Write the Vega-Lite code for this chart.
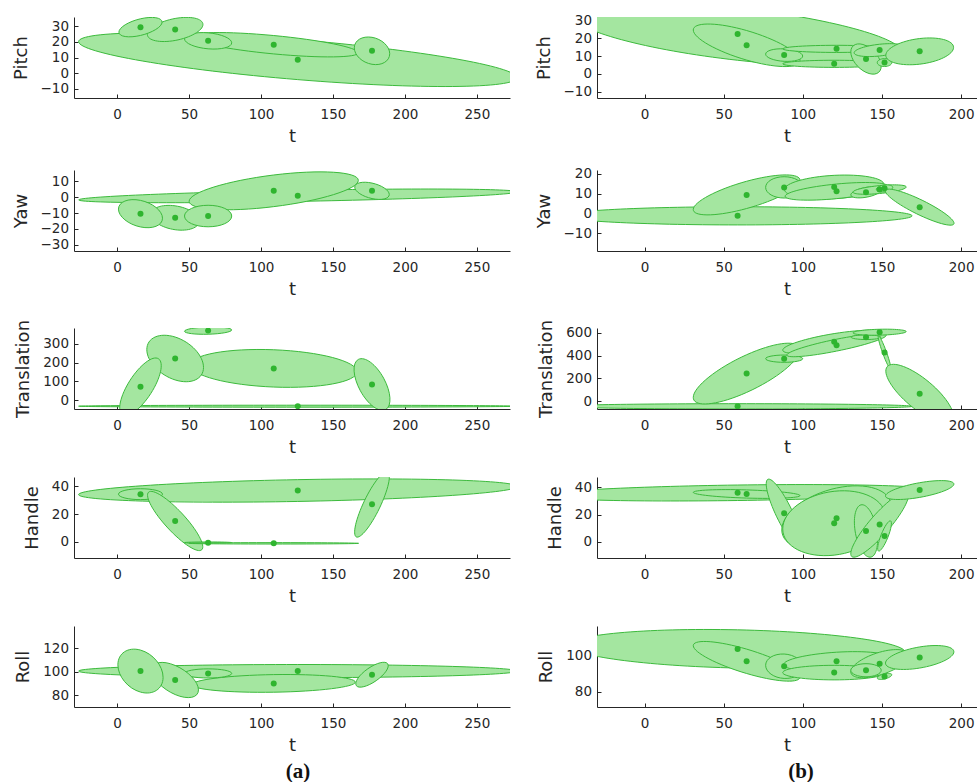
{
  "$schema": "https://vega.github.io/schema/vega-lite/v6.json",
  "padding": {"left": 12, "top": 13, "right": 0, "bottom": 0},
  "columns": 2,
  "spacing": {"row": 20, "column": 25},
  "config": {
    "font": "DejaVu Sans",
    "view": {"stroke": null},
    "axis": {
      "grid": false, "domainColor": "#262626", "tickColor": "#262626", "tickSize": -4,
      "labelFont": "DejaVu Sans", "labelFontSize": 13.5, "labelColor": "#262626", "labelFlush": false, "labelOverlap": false,
      "titleFont": "DejaVu Sans", "titleFontSize": 18, "titleFontWeight": "normal", "titleColor": "#262626"
    },
    "axisX": {"labelPadding": 13, "titlePadding": 7},
    "axisY": {"labelPadding": 9.5, "titlePadding": 10}
  },
  "datasets": {
    "ell": [
      {"p":"a1","e":"A1","k":0,"t":277.8,"v":-2.95},{"p":"a1","e":"A1","k":1,"t":125.5,"v":21.4},{"p":"a1","e":"A1","k":2,"t":-26.8,"v":20.15},{"p":"a1","e":"A1","k":3,"t":125.5,"v":-4.2},
      {"p":"a1","e":"A5","k":0,"t":167.6,"v":13.07},{"p":"a1","e":"A5","k":1,"t":108.8,"v":24.1},{"p":"a1","e":"A5","k":2,"t":50.0,"v":23.33},{"p":"a1","e":"A5","k":3,"t":108.8,"v":12.3},
      {"p":"a1","e":"A6","k":0,"t":189.4,"v":12.4},{"p":"a1","e":"A6","k":1,"t":177.1,"v":22.96},{"p":"a1","e":"A6","k":2,"t":164.8,"v":16.2},{"p":"a1","e":"A6","k":3,"t":177.1,"v":5.64},
      {"p":"a1","e":"A4","k":0,"t":79.6,"v":19.42},{"p":"a1","e":"A4","k":1,"t":63.2,"v":25.83},{"p":"a1","e":"A4","k":2,"t":46.8,"v":21.98},{"p":"a1","e":"A4","k":3,"t":63.2,"v":15.57},
      {"p":"a1","e":"A3","k":0,"t":59.6,"v":31.2},{"p":"a1","e":"A3","k":1,"t":40.3,"v":35.06},{"p":"a1","e":"A3","k":2,"t":21.0,"v":24.8},{"p":"a1","e":"A3","k":3,"t":40.3,"v":20.94},
      {"p":"a1","e":"A2","k":0,"t":31.2,"v":32.7},{"p":"a1","e":"A2","k":1,"t":16.2,"v":34.85},{"p":"a1","e":"A2","k":2,"t":1.2,"v":26.3},{"p":"a1","e":"A2","k":3,"t":16.2,"v":24.15},

      {"p":"a2","e":"B1","k":0,"t":277.8,"v":3.4},{"p":"a2","e":"B1","k":1,"t":125.5,"v":4.35},{"p":"a2","e":"B1","k":2,"t":-26.8,"v":-1.7},{"p":"a2","e":"B1","k":3,"t":125.5,"v":-2.65},
      {"p":"a2","e":"B2","k":0,"t":167.6,"v":10.64},{"p":"a2","e":"B2","k":1,"t":108.8,"v":14.04},{"p":"a2","e":"B2","k":2,"t":50.0,"v":-2.56},{"p":"a2","e":"B2","k":3,"t":108.8,"v":-5.96},
      {"p":"a2","e":"B3","k":0,"t":189.1,"v":1.7},{"p":"a2","e":"B3","k":1,"t":177.1,"v":8.94},{"p":"a2","e":"B3","k":2,"t":165.1,"v":6.38},{"p":"a2","e":"B3","k":3,"t":177.1,"v":-0.86},
      {"p":"a2","e":"B5","k":0,"t":57.0,"v":-15.1},{"p":"a2","e":"B5","k":1,"t":40.3,"v":-5.45},{"p":"a2","e":"B5","k":2,"t":23.6,"v":-10.9},{"p":"a2","e":"B5","k":3,"t":40.3,"v":-20.55},
      {"p":"a2","e":"B4","k":0,"t":31.5,"v":-13.27},{"p":"a2","e":"B4","k":1,"t":16.2,"v":-2.0},{"p":"a2","e":"B4","k":2,"t":0.9,"v":-7.53},{"p":"a2","e":"B4","k":3,"t":16.2,"v":-18.8},
      {"p":"a2","e":"B6","k":0,"t":79.6,"v":-11.9},{"p":"a2","e":"B6","k":1,"t":63.2,"v":-5.1},{"p":"a2","e":"B6","k":2,"t":46.8,"v":-11.9},{"p":"a2","e":"B6","k":3,"t":63.2,"v":-18.7},

      {"p":"a3","e":"C1","k":0,"t":277.8,"v":-33},{"p":"a3","e":"C1","k":1,"t":125.5,"v":-27.7},{"p":"a3","e":"C1","k":2,"t":-26.8,"v":-33},{"p":"a3","e":"C1","k":3,"t":125.5,"v":-38.3},
      {"p":"a3","e":"C5","k":0,"t":166.7,"v":151.4},{"p":"a3","e":"C5","k":1,"t":108.8,"v":268.7},{"p":"a3","e":"C5","k":2,"t":50.9,"v":186.6},{"p":"a3","e":"C5","k":3,"t":108.8,"v":69.3},
      {"p":"a3","e":"C3","k":0,"t":60.0,"v":174.3},{"p":"a3","e":"C3","k":1,"t":40.3,"v":336.7},{"p":"a3","e":"C3","k":2,"t":20.6,"v":269.7},{"p":"a3","e":"C3","k":3,"t":40.3,"v":107.3},
      {"p":"a3","e":"C2","k":0,"t":28.7,"v":220.6},{"p":"a3","e":"C2","k":1,"t":23.4,"v":35.3},{"p":"a3","e":"C2","k":2,"t":3.7,"v":-79.4},{"p":"a3","e":"C2","k":3,"t":9.0,"v":105.9},
      {"p":"a3","e":"C4","k":0,"t":79.6,"v":374.5},{"p":"a3","e":"C4","k":1,"t":63.2,"v":390.4},{"p":"a3","e":"C4","k":2,"t":46.8,"v":367.5},{"p":"a3","e":"C4","k":3,"t":63.2,"v":351.6},
      {"p":"a3","e":"C6","k":0,"t":167.6,"v":217},{"p":"a3","e":"C6","k":1,"t":185.2,"v":116.5},{"p":"a3","e":"C6","k":2,"t":186.6,"v":-51},{"p":"a3","e":"C6","k":3,"t":169.0,"v":49.5},

      {"p":"a4","e":"D1","k":0,"t":277.8,"v":39.7},{"p":"a4","e":"D1","k":1,"t":125.5,"v":44.6},{"p":"a4","e":"D1","k":2,"t":-26.8,"v":33.9},{"p":"a4","e":"D1","k":3,"t":125.5,"v":29.0},
      {"p":"a4","e":"D2","k":0,"t":31.5,"v":34.2},{"p":"a4","e":"D2","k":1,"t":16.2,"v":38.1},{"p":"a4","e":"D2","k":2,"t":0.9,"v":34.2},{"p":"a4","e":"D2","k":3,"t":16.2,"v":30.3},
      {"p":"a4","e":"D3","k":0,"t":21.8,"v":35.6},{"p":"a4","e":"D3","k":1,"t":45.4,"v":20.0},{"p":"a4","e":"D3","k":2,"t":58.8,"v":-5.6},{"p":"a4","e":"D3","k":3,"t":35.2,"v":10.0},
      {"p":"a4","e":"D6","k":0,"t":188.0,"v":50.2},{"p":"a4","e":"D6","k":1,"t":182.3,"v":24.2},{"p":"a4","e":"D6","k":2,"t":166.2,"v":3.6},{"p":"a4","e":"D6","k":3,"t":171.9,"v":29.6},
      {"p":"a4","e":"D4","k":0,"t":79.6,"v":-0.5},{"p":"a4","e":"D4","k":1,"t":63.2,"v":0},{"p":"a4","e":"D4","k":2,"t":46.8,"v":-0.5},{"p":"a4","e":"D4","k":3,"t":63.2,"v":-1.0},
      {"p":"a4","e":"D5","k":0,"t":167.8,"v":-1.0},{"p":"a4","e":"D5","k":1,"t":108.8,"v":-0.5},{"p":"a4","e":"D5","k":2,"t":49.8,"v":-1.0},{"p":"a4","e":"D5","k":3,"t":108.8,"v":-1.5},

      {"p":"a5","e":"E1","k":0,"t":277.8,"v":100.6},{"p":"a5","e":"E1","k":1,"t":125.5,"v":106.2},{"p":"a5","e":"E1","k":2,"t":-26.8,"v":100.6},{"p":"a5","e":"E1","k":3,"t":125.5,"v":95.0},
      {"p":"a5","e":"E5","k":0,"t":165.5,"v":91.2},{"p":"a5","e":"E5","k":1,"t":108.8,"v":97.6},{"p":"a5","e":"E5","k":2,"t":52.1,"v":89.0},{"p":"a5","e":"E5","k":3,"t":108.8,"v":82.6},
      {"p":"a5","e":"E4","k":0,"t":79.6,"v":98.6},{"p":"a5","e":"E4","k":1,"t":63.2,"v":102.5},{"p":"a5","e":"E4","k":2,"t":46.8,"v":98.6},{"p":"a5","e":"E4","k":3,"t":63.2,"v":94.7},
      {"p":"a5","e":"E3","k":0,"t":56.5,"v":84.55},{"p":"a5","e":"E3","k":1,"t":40.3,"v":105.4},{"p":"a5","e":"E3","k":2,"t":24.1,"v":101.45},{"p":"a5","e":"E3","k":3,"t":40.3,"v":80.6},
      {"p":"a5","e":"E2","k":0,"t":31.9,"v":95.25},{"p":"a5","e":"E2","k":1,"t":16.2,"v":118.5},{"p":"a5","e":"E2","k":2,"t":0.5,"v":105.95},{"p":"a5","e":"E2","k":3,"t":16.2,"v":82.7},
      {"p":"a5","e":"E6","k":0,"t":188.0,"v":106.8},{"p":"a5","e":"E6","k":1,"t":180.0,"v":92.43},{"p":"a5","e":"E6","k":2,"t":166.2,"v":88.2},{"p":"a5","e":"E6","k":3,"t":174.2,"v":102.57},

      {"p":"b1","e":"F1","k":0,"t":162.7,"v":12.1},{"p":"b1","e":"F1","k":1,"t":58.8,"v":37.1},{"p":"b1","e":"F1","k":2,"t":-45.1,"v":32.7},{"p":"b1","e":"F1","k":3,"t":58.8,"v":7.7},
      {"p":"b1","e":"F2","k":0,"t":98.2,"v":7.5},{"p":"b1","e":"F2","k":1,"t":64.5,"v":24.4},{"p":"b1","e":"F2","k":2,"t":30.8,"v":24.7},{"p":"b1","e":"F2","k":3,"t":64.5,"v":7.8},
      {"p":"b1","e":"F3","k":0,"t":99.9,"v":10.05},{"p":"b1","e":"F3","k":1,"t":88.2,"v":14.1},{"p":"b1","e":"F3","k":2,"t":76.5,"v":11.15},{"p":"b1","e":"F3","k":3,"t":88.2,"v":7.1},
      {"p":"b1","e":"F4","k":0,"t":155.2,"v":14.1},{"p":"b1","e":"F4","k":1,"t":121.3,"v":16.1},{"p":"b1","e":"F4","k":2,"t":87.4,"v":14.1},{"p":"b1","e":"F4","k":3,"t":121.3,"v":12.1},
      {"p":"b1","e":"F5","k":0,"t":152.3,"v":5.7},{"p":"b1","e":"F5","k":1,"t":119.8,"v":7.7},{"p":"b1","e":"F5","k":2,"t":87.3,"v":5.7},{"p":"b1","e":"F5","k":3,"t":119.8,"v":3.7},
      {"p":"b1","e":"F6","k":0,"t":149.5,"v":4.4},{"p":"b1","e":"F6","k":1,"t":139.9,"v":15.9},{"p":"b1","e":"F6","k":2,"t":130.3,"v":12.4},{"p":"b1","e":"F6","k":3,"t":139.9,"v":0.9},
      {"p":"b1","e":"F7","k":0,"t":164.6,"v":14.9},{"p":"b1","e":"F7","k":1,"t":148.5,"v":16.7},{"p":"b1","e":"F7","k":2,"t":132.4,"v":11.9},{"p":"b1","e":"F7","k":3,"t":148.5,"v":10.1},
      {"p":"b1","e":"F8","k":0,"t":156.2,"v":6.4},{"p":"b1","e":"F8","k":1,"t":151.6,"v":8.6},{"p":"b1","e":"F8","k":2,"t":147.0,"v":6.4},{"p":"b1","e":"F8","k":3,"t":151.6,"v":4.2},
      {"p":"b1","e":"F9","k":0,"t":195.2,"v":14.9},{"p":"b1","e":"F9","k":1,"t":173.8,"v":19.9},{"p":"b1","e":"F9","k":2,"t":152.4,"v":10.5},{"p":"b1","e":"F9","k":3,"t":173.8,"v":5.5},

      {"p":"b2","e":"G1","k":0,"t":169.0,"v":-1.2},{"p":"b2","e":"G1","k":1,"t":58.8,"v":3.4},{"p":"b2","e":"G1","k":2,"t":-51.4,"v":-1.2},{"p":"b2","e":"G1","k":3,"t":58.8,"v":-5.8},
      {"p":"b2","e":"G2","k":0,"t":98.2,"v":16.8},{"p":"b2","e":"G2","k":1,"t":64.5,"v":16.3},{"p":"b2","e":"G2","k":2,"t":30.8,"v":2.0},{"p":"b2","e":"G2","k":3,"t":64.5,"v":2.5},
      {"p":"b2","e":"G3","k":0,"t":99.9,"v":13.2},{"p":"b2","e":"G3","k":1,"t":88.2,"v":18.6},{"p":"b2","e":"G3","k":2,"t":76.5,"v":13.2},{"p":"b2","e":"G3","k":3,"t":88.2,"v":7.8},
      {"p":"b2","e":"G4a","k":0,"t":151.2,"v":14.7},{"p":"b2","e":"G4a","k":1,"t":119.8,"v":19.3},{"p":"b2","e":"G4a","k":2,"t":88.4,"v":12.1},{"p":"b2","e":"G4a","k":3,"t":119.8,"v":7.5},
      {"p":"b2","e":"G4b","k":0,"t":153.8,"v":13.7},{"p":"b2","e":"G4b","k":1,"t":121.3,"v":14.9},{"p":"b2","e":"G4b","k":2,"t":88.8,"v":8.7},{"p":"b2","e":"G4b","k":3,"t":121.3,"v":7.5},
      {"p":"b2","e":"G5","k":0,"t":149.5,"v":12.0},{"p":"b2","e":"G5","k":1,"t":139.9,"v":13.2},{"p":"b2","e":"G5","k":2,"t":130.3,"v":9.4},{"p":"b2","e":"G5","k":3,"t":139.9,"v":8.2},
      {"p":"b2","e":"G6","k":0,"t":165.3,"v":13.4},{"p":"b2","e":"G6","k":1,"t":148.5,"v":14.1},{"p":"b2","e":"G6","k":2,"t":131.7,"v":10.8},{"p":"b2","e":"G6","k":3,"t":148.5,"v":10.1},
      {"p":"b2","e":"G7","k":0,"t":156.8,"v":13.2},{"p":"b2","e":"G7","k":1,"t":151.6,"v":14.4},{"p":"b2","e":"G7","k":2,"t":146.4,"v":12.2},{"p":"b2","e":"G7","k":3,"t":151.6,"v":11.0},
      {"p":"b2","e":"G8","k":0,"t":152.2,"v":11.7},{"p":"b2","e":"G8","k":1,"t":175.85,"v":6.5},{"p":"b2","e":"G8","k":2,"t":195.4,"v":-5.3},{"p":"b2","e":"G8","k":3,"t":171.75,"v":-0.1},

      {"p":"b3","e":"H1","k":0,"t":169.0,"v":-46.6},{"p":"b3","e":"H1","k":1,"t":58.8,"v":-23.3},{"p":"b3","e":"H1","k":2,"t":-51.4,"v":-46.6},{"p":"b3","e":"H1","k":3,"t":58.8,"v":-69.9},
      {"p":"b3","e":"H2","k":0,"t":98.2,"v":451.5},{"p":"b3","e":"H2","k":1,"t":64.5,"v":407.8},{"p":"b3","e":"H2","k":2,"t":30.8,"v":32.1},{"p":"b3","e":"H2","k":3,"t":64.5,"v":75.8},
      {"p":"b3","e":"H3","k":0,"t":99.9,"v":372.9},{"p":"b3","e":"H3","k":1,"t":88.2,"v":404.9},{"p":"b3","e":"H3","k":2,"t":76.5,"v":372.9},{"p":"b3","e":"H3","k":3,"t":88.2,"v":340.9},
      {"p":"b3","e":"H4a","k":0,"t":152.3,"v":593.8},{"p":"b3","e":"H4a","k":1,"t":119.8,"v":593.8},{"p":"b3","e":"H4a","k":2,"t":87.3,"v":448.2},{"p":"b3","e":"H4a","k":3,"t":119.8,"v":448.2},
      {"p":"b3","e":"H4b","k":0,"t":152.7,"v":579.4},{"p":"b3","e":"H4b","k":1,"t":121.3,"v":544.4},{"p":"b3","e":"H4b","k":2,"t":89.9,"v":404.6},{"p":"b3","e":"H4b","k":3,"t":121.3,"v":439.6},
      {"p":"b3","e":"H5","k":0,"t":149.3,"v":562},{"p":"b3","e":"H5","k":1,"t":139.9,"v":582.4},{"p":"b3","e":"H5","k":2,"t":130.5,"v":562},{"p":"b3","e":"H5","k":3,"t":139.9,"v":541.6},
      {"p":"b3","e":"H6","k":0,"t":165.3,"v":611.8},{"p":"b3","e":"H6","k":1,"t":148.5,"v":632},{"p":"b3","e":"H6","k":2,"t":131.7,"v":600.2},{"p":"b3","e":"H6","k":3,"t":148.5,"v":580},
      {"p":"b3","e":"H7","k":0,"t":147.8,"v":573.6},{"p":"b3","e":"H7","k":1,"t":152.77,"v":433.8},{"p":"b3","e":"H7","k":2,"t":155.4,"v":282.4},{"p":"b3","e":"H7","k":3,"t":150.43,"v":422.2},
      {"p":"b3","e":"H8","k":0,"t":153.3,"v":302.9},{"p":"b3","e":"H8","k":1,"t":179.87,"v":164.5},{"p":"b3","e":"H8","k":2,"t":194.3,"v":-174.9},{"p":"b3","e":"H8","k":3,"t":167.73,"v":-36.5},

      {"p":"b4","e":"I1","k":0,"t":182.4,"v":38.0},{"p":"b4","e":"I1","k":1,"t":58.8,"v":41.7},{"p":"b4","e":"I1","k":2,"t":-64.8,"v":34.0},{"p":"b4","e":"I1","k":3,"t":58.8,"v":30.3},
      {"p":"b4","e":"I2","k":0,"t":98.2,"v":33.9},{"p":"b4","e":"I2","k":1,"t":64.5,"v":38.1},{"p":"b4","e":"I2","k":2,"t":30.8,"v":36.3},{"p":"b4","e":"I2","k":3,"t":64.5,"v":32.1},
      {"p":"b4","e":"I3","k":0,"t":77.9,"v":45.9},{"p":"b4","e":"I3","k":1,"t":92.9,"v":23.7},{"p":"b4","e":"I3","k":2,"t":98.5,"v":-3.9},{"p":"b4","e":"I3","k":3,"t":83.5,"v":18.3},
      {"p":"b4","e":"I4b","k":0,"t":155.9,"v":25.9},{"p":"b4","e":"I4b","k":1,"t":121.3,"v":39.5},{"p":"b4","e":"I4b","k":2,"t":86.7,"v":8.7},{"p":"b4","e":"I4b","k":3,"t":121.3,"v":-4.9},
      {"p":"b4","e":"I4a","k":0,"t":152.3,"v":17.8},{"p":"b4","e":"I4a","k":1,"t":119.8,"v":37.1},{"p":"b4","e":"I4a","k":2,"t":87.3,"v":9.4},{"p":"b4","e":"I4a","k":3,"t":119.8,"v":-9.9},
      {"p":"b4","e":"I6","k":0,"t":137.4,"v":27.2},{"p":"b4","e":"I6","k":1,"t":146.8,"v":7.9},{"p":"b4","e":"I6","k":2,"t":142.4,"v":-11.4},{"p":"b4","e":"I6","k":3,"t":133.0,"v":7.9},
      {"p":"b4","e":"I5","k":0,"t":166.1,"v":36.1},{"p":"b4","e":"I5","k":1,"t":153.2,"v":7.7},{"p":"b4","e":"I5","k":2,"t":130.9,"v":-10.9},{"p":"b4","e":"I5","k":3,"t":143.8,"v":17.5},
      {"p":"b4","e":"I7","k":0,"t":155.4,"v":15.3},{"p":"b4","e":"I7","k":1,"t":153.7,"v":3.2},{"p":"b4","e":"I7","k":2,"t":147.8,"v":-6.9},{"p":"b4","e":"I7","k":3,"t":149.5,"v":5.2},
      {"p":"b4","e":"I8","k":0,"t":195.4,"v":42.4},{"p":"b4","e":"I8","k":1,"t":173.8,"v":43.4},{"p":"b4","e":"I8","k":2,"t":152.2,"v":33.6},{"p":"b4","e":"I8","k":3,"t":173.8,"v":32.6},

      {"p":"b5","e":"J1","k":0,"t":164.8,"v":101.6},{"p":"b5","e":"J1","k":1,"t":58.8,"v":114.1},{"p":"b5","e":"J1","k":2,"t":-47.2,"v":105.6},{"p":"b5","e":"J1","k":3,"t":58.8,"v":93.1},
      {"p":"b5","e":"J2","k":0,"t":98.2,"v":88.2},{"p":"b5","e":"J2","k":1,"t":64.5,"v":103.5},{"p":"b5","e":"J2","k":2,"t":30.8,"v":105.4},{"p":"b5","e":"J2","k":3,"t":64.5,"v":90.1},
      {"p":"b5","e":"J3","k":0,"t":99.9,"v":93.6},{"p":"b5","e":"J3","k":1,"t":88.2,"v":100.8},{"p":"b5","e":"J3","k":2,"t":76.5,"v":94.6},{"p":"b5","e":"J3","k":3,"t":88.2,"v":87.4},
      {"p":"b5","e":"J4","k":0,"t":154.8,"v":98.6},{"p":"b5","e":"J4","k":1,"t":121.3,"v":101.8},{"p":"b5","e":"J4","k":2,"t":87.8,"v":95.0},{"p":"b5","e":"J4","k":3,"t":121.3,"v":91.8},
      {"p":"b5","e":"J5","k":0,"t":152.3,"v":90.6},{"p":"b5","e":"J5","k":1,"t":119.8,"v":94.6},{"p":"b5","e":"J5","k":2,"t":87.3,"v":90.6},{"p":"b5","e":"J5","k":3,"t":119.8,"v":86.6},
      {"p":"b5","e":"J6","k":0,"t":166.7,"v":100.0},{"p":"b5","e":"J6","k":1,"t":148.5,"v":101.8},{"p":"b5","e":"J6","k":2,"t":130.3,"v":91.0},{"p":"b5","e":"J6","k":3,"t":148.5,"v":89.2},
      {"p":"b5","e":"J7","k":0,"t":149.5,"v":91.9},{"p":"b5","e":"J7","k":1,"t":139.9,"v":95.5},{"p":"b5","e":"J7","k":2,"t":130.3,"v":91.9},{"p":"b5","e":"J7","k":3,"t":139.9,"v":88.3},
      {"p":"b5","e":"J8","k":0,"t":156.2,"v":89.4},{"p":"b5","e":"J8","k":1,"t":151.6,"v":89.9},{"p":"b5","e":"J8","k":2,"t":147.0,"v":87.6},{"p":"b5","e":"J8","k":3,"t":151.6,"v":87.1},
      {"p":"b5","e":"J9","k":0,"t":195.4,"v":102.0},{"p":"b5","e":"J9","k":1,"t":173.8,"v":104.7},{"p":"b5","e":"J9","k":2,"t":152.2,"v":95.8},{"p":"b5","e":"J9","k":3,"t":173.8,"v":93.1}
    ],
    "dots": [
      {"p":"a1","t":16.2,"v":29.5},{"p":"a1","t":40.3,"v":28.0},{"p":"a1","t":63.2,"v":20.7},{"p":"a1","t":108.8,"v":18.2},{"p":"a1","t":125.5,"v":8.6},{"p":"a1","t":177.1,"v":14.3},
      {"p":"a2","t":16.2,"v":-10.4},{"p":"a2","t":40.3,"v":-13.0},{"p":"a2","t":63.2,"v":-11.9},{"p":"a2","t":108.8,"v":4.04},{"p":"a2","t":125.5,"v":0.85},{"p":"a2","t":177.1,"v":4.04},
      {"p":"a3","t":16.2,"v":70.6},{"p":"a3","t":40.3,"v":222},{"p":"a3","t":63.2,"v":371},{"p":"a3","t":108.8,"v":169},{"p":"a3","t":125.5,"v":-33},{"p":"a3","t":177.1,"v":83},
      {"p":"a4","t":16.2,"v":34.2},{"p":"a4","t":40.3,"v":15.0},{"p":"a4","t":63.2,"v":-0.5},{"p":"a4","t":108.8,"v":-1.0},{"p":"a4","t":125.5,"v":36.8},{"p":"a4","t":177.1,"v":26.9},
      {"p":"a5","t":16.2,"v":100.6},{"p":"a5","t":40.3,"v":93.0},{"p":"a5","t":63.2,"v":98.6},{"p":"a5","t":108.8,"v":90.1},{"p":"a5","t":125.5,"v":100.6},{"p":"a5","t":177.1,"v":97.5},
      {"p":"b1","t":58.8,"v":22.4},{"p":"b1","t":64.5,"v":16.1},{"p":"b1","t":88.2,"v":10.6},{"p":"b1","t":121.3,"v":14.1},{"p":"b1","t":119.8,"v":5.7},{"p":"b1","t":139.9,"v":8.4},{"p":"b1","t":148.5,"v":13.4},{"p":"b1","t":151.6,"v":6.4},{"p":"b1","t":173.8,"v":12.7},
      {"p":"b2","t":58.8,"v":-1.2},{"p":"b2","t":64.5,"v":9.4},{"p":"b2","t":88.2,"v":13.2},{"p":"b2","t":119.8,"v":13.4},{"p":"b2","t":121.3,"v":11.2},{"p":"b2","t":139.9,"v":10.7},{"p":"b2","t":148.5,"v":12.1},{"p":"b2","t":151.6,"v":12.7},{"p":"b2","t":173.8,"v":3.2},
      {"p":"b3","t":58.8,"v":-46.6},{"p":"b3","t":64.5,"v":241.8},{"p":"b3","t":88.2,"v":372.9},{"p":"b3","t":119.8,"v":521},{"p":"b3","t":121.3,"v":492},{"p":"b3","t":139.9,"v":562},{"p":"b3","t":148.5,"v":606},{"p":"b3","t":151.6,"v":428},{"p":"b3","t":173.8,"v":64},
      {"p":"b4","t":58.8,"v":36.0},{"p":"b4","t":64.5,"v":35.1},{"p":"b4","t":88.2,"v":21.0},{"p":"b4","t":119.8,"v":13.6},{"p":"b4","t":121.3,"v":17.3},{"p":"b4","t":139.9,"v":7.9},{"p":"b4","t":148.5,"v":12.6},{"p":"b4","t":151.6,"v":4.2},{"p":"b4","t":173.8,"v":38.0},
      {"p":"b5","t":58.8,"v":103.6},{"p":"b5","t":64.5,"v":96.8},{"p":"b5","t":88.2,"v":94.1},{"p":"b5","t":119.8,"v":90.6},{"p":"b5","t":121.3,"v":96.8},{"p":"b5","t":139.9,"v":91.9},{"p":"b5","t":148.5,"v":95.5},{"p":"b5","t":151.6,"v":88.5},{"p":"b5","t":173.8,"v":98.9}
    ]
  },
  "concat": [
    {"width": 436, "height": 81,
     "encoding": {
       "x": {"field": "t", "type": "quantitative", "scale": {"domain": [-30, 273], "nice": false, "zero": false}, "axis": {"title": "t", "values": [0, 50, 100, 150, 200, 250], "labelOverlap": false}},
       "y": {"field": "v", "type": "quantitative", "scale": {"domain": [-16, 36], "nice": false, "zero": false}, "axis": {"title": "Pitch", "values": [-10, 0, 10, 20, 30], "labelOverlap": false}}},
     "layer": [
      {"data": {"name": "ell"}, "transform": [{"filter": "datum.p == 'a1'"}],
       "mark": {"type": "line", "interpolate": "cardinal-closed", "tension": -0.657, "fill": "#a4e6a0", "stroke": "#3cba3c", "strokeWidth": 1, "clip": true},
       "encoding": {"detail": {"field": "e", "type": "nominal"}, "order": {"field": "k", "type": "quantitative"}}},
      {"data": {"name": "dots"}, "transform": [{"filter": "datum.p == 'a1'"}],
       "mark": {"type": "point", "filled": true, "size": 36, "color": "#2fb52f", "opacity": 1, "clip": true}}
    ]},
    {"width": 380, "height": 81,
     "encoding": {
       "x": {"field": "t", "type": "quantitative", "scale": {"domain": [-30, 210], "nice": false, "zero": false}, "axis": {"title": "t", "values": [0, 50, 100, 150, 200], "labelOverlap": false}},
       "y": {"field": "v", "type": "quantitative", "scale": {"domain": [-13.5, 32], "nice": false, "zero": false}, "axis": {"title": "Pitch", "values": [-10, 0, 10, 20, 30], "labelOverlap": false}}},
     "layer": [
      {"data": {"name": "ell"}, "transform": [{"filter": "datum.p == 'b1'"}],
       "mark": {"type": "line", "interpolate": "cardinal-closed", "tension": -0.657, "fill": "#a4e6a0", "stroke": "#3cba3c", "strokeWidth": 1, "clip": true},
       "encoding": {"detail": {"field": "e", "type": "nominal"}, "order": {"field": "k", "type": "quantitative"}}},
      {"data": {"name": "dots"}, "transform": [{"filter": "datum.p == 'b1'"}],
       "mark": {"type": "point", "filled": true, "size": 36, "color": "#2fb52f", "opacity": 1, "clip": true}}
    ]},
    {"width": 436, "height": 81,
     "encoding": {
       "x": {"field": "t", "type": "quantitative", "scale": {"domain": [-30, 273], "nice": false, "zero": false}, "axis": {"title": "t", "values": [0, 50, 100, 150, 200, 250], "labelOverlap": false}},
       "y": {"field": "v", "type": "quantitative", "scale": {"domain": [-34, 17.2], "nice": false, "zero": false}, "axis": {"title": "Yaw", "values": [-30, -20, -10, 0, 10], "labelOverlap": false}}},
     "layer": [
      {"data": {"name": "ell"}, "transform": [{"filter": "datum.p == 'a2'"}],
       "mark": {"type": "line", "interpolate": "cardinal-closed", "tension": -0.657, "fill": "#a4e6a0", "stroke": "#3cba3c", "strokeWidth": 1, "clip": true},
       "encoding": {"detail": {"field": "e", "type": "nominal"}, "order": {"field": "k", "type": "quantitative"}}},
      {"data": {"name": "dots"}, "transform": [{"filter": "datum.p == 'a2'"}],
       "mark": {"type": "point", "filled": true, "size": 36, "color": "#2fb52f", "opacity": 1, "clip": true}}
    ]},
    {"width": 380, "height": 81,
     "encoding": {
       "x": {"field": "t", "type": "quantitative", "scale": {"domain": [-30, 210], "nice": false, "zero": false}, "axis": {"title": "t", "values": [0, 50, 100, 150, 200], "labelOverlap": false}},
       "y": {"field": "v", "type": "quantitative", "scale": {"domain": [-19, 22], "nice": false, "zero": false}, "axis": {"title": "Yaw", "values": [-10, 0, 10, 20], "labelOverlap": false}}},
     "layer": [
      {"data": {"name": "ell"}, "transform": [{"filter": "datum.p == 'b2'"}],
       "mark": {"type": "line", "interpolate": "cardinal-closed", "tension": -0.657, "fill": "#a4e6a0", "stroke": "#3cba3c", "strokeWidth": 1, "clip": true},
       "encoding": {"detail": {"field": "e", "type": "nominal"}, "order": {"field": "k", "type": "quantitative"}}},
      {"data": {"name": "dots"}, "transform": [{"filter": "datum.p == 'b2'"}],
       "mark": {"type": "point", "filled": true, "size": 36, "color": "#2fb52f", "opacity": 1, "clip": true}}
    ]},
    {"width": 436, "height": 81,
     "encoding": {
       "x": {"field": "t", "type": "quantitative", "scale": {"domain": [-30, 273], "nice": false, "zero": false}, "axis": {"title": "t", "values": [0, 50, 100, 150, 200, 250], "labelOverlap": false}},
       "y": {"field": "v", "type": "quantitative", "scale": {"domain": [-48, 385], "nice": false, "zero": false}, "axis": {"title": "Translation", "values": [0, 100, 200, 300], "labelOverlap": false}}},
     "layer": [
      {"data": {"name": "ell"}, "transform": [{"filter": "datum.p == 'a3'"}],
       "mark": {"type": "line", "interpolate": "cardinal-closed", "tension": -0.657, "fill": "#a4e6a0", "stroke": "#3cba3c", "strokeWidth": 1, "clip": true},
       "encoding": {"detail": {"field": "e", "type": "nominal"}, "order": {"field": "k", "type": "quantitative"}}},
      {"data": {"name": "dots"}, "transform": [{"filter": "datum.p == 'a3'"}],
       "mark": {"type": "point", "filled": true, "size": 36, "color": "#2fb52f", "opacity": 1, "clip": true}}
    ]},
    {"width": 380, "height": 81,
     "encoding": {
       "x": {"field": "t", "type": "quantitative", "scale": {"domain": [-30, 210], "nice": false, "zero": false}, "axis": {"title": "t", "values": [0, 50, 100, 150, 200], "labelOverlap": false}},
       "y": {"field": "v", "type": "quantitative", "scale": {"domain": [-70, 643], "nice": false, "zero": false}, "axis": {"title": "Translation", "values": [0, 200, 400, 600], "labelOverlap": false}}},
     "layer": [
      {"data": {"name": "ell"}, "transform": [{"filter": "datum.p == 'b3'"}],
       "mark": {"type": "line", "interpolate": "cardinal-closed", "tension": -0.657, "fill": "#a4e6a0", "stroke": "#3cba3c", "strokeWidth": 1, "clip": true},
       "encoding": {"detail": {"field": "e", "type": "nominal"}, "order": {"field": "k", "type": "quantitative"}}},
      {"data": {"name": "dots"}, "transform": [{"filter": "datum.p == 'b3'"}],
       "mark": {"type": "point", "filled": true, "size": 36, "color": "#2fb52f", "opacity": 1, "clip": true}}
    ]},
    {"width": 436, "height": 81,
     "encoding": {
       "x": {"field": "t", "type": "quantitative", "scale": {"domain": [-30, 273], "nice": false, "zero": false}, "axis": {"title": "t", "values": [0, 50, 100, 150, 200, 250], "labelOverlap": false}},
       "y": {"field": "v", "type": "quantitative", "scale": {"domain": [-11.5, 46.5], "nice": false, "zero": false}, "axis": {"title": "Handle", "values": [0, 20, 40], "labelOverlap": false}}},
     "layer": [
      {"data": {"name": "ell"}, "transform": [{"filter": "datum.p == 'a4'"}],
       "mark": {"type": "line", "interpolate": "cardinal-closed", "tension": -0.657, "fill": "#a4e6a0", "stroke": "#3cba3c", "strokeWidth": 1, "clip": true},
       "encoding": {"detail": {"field": "e", "type": "nominal"}, "order": {"field": "k", "type": "quantitative"}}},
      {"data": {"name": "dots"}, "transform": [{"filter": "datum.p == 'a4'"}],
       "mark": {"type": "point", "filled": true, "size": 36, "color": "#2fb52f", "opacity": 1, "clip": true}}
    ]},
    {"width": 380, "height": 81,
     "encoding": {
       "x": {"field": "t", "type": "quantitative", "scale": {"domain": [-30, 210], "nice": false, "zero": false}, "axis": {"title": "t", "values": [0, 50, 100, 150, 200], "labelOverlap": false}},
       "y": {"field": "v", "type": "quantitative", "scale": {"domain": [-12, 47.6], "nice": false, "zero": false}, "axis": {"title": "Handle", "values": [0, 20, 40], "labelOverlap": false}}},
     "layer": [
      {"data": {"name": "ell"}, "transform": [{"filter": "datum.p == 'b4'"}],
       "mark": {"type": "line", "interpolate": "cardinal-closed", "tension": -0.657, "fill": "#a4e6a0", "stroke": "#3cba3c", "strokeWidth": 1, "clip": true},
       "encoding": {"detail": {"field": "e", "type": "nominal"}, "order": {"field": "k", "type": "quantitative"}}},
      {"data": {"name": "dots"}, "transform": [{"filter": "datum.p == 'b4'"}],
       "mark": {"type": "point", "filled": true, "size": 36, "color": "#2fb52f", "opacity": 1, "clip": true}}
    ]},
    {"width": 436, "height": 81,
     "title": {"text": "(a)", "orient": "bottom", "anchor": "middle", "font": "Liberation Serif", "fontSize": 21, "fontWeight": "bold", "color": "#111111", "offset": 6, "dx": 6},
     "encoding": {
       "x": {"field": "t", "type": "quantitative", "scale": {"domain": [-30, 273], "nice": false, "zero": false}, "axis": {"title": "t", "values": [0, 50, 100, 150, 200, 250], "labelOverlap": false}},
       "y": {"field": "v", "type": "quantitative", "scale": {"domain": [70, 139], "nice": false, "zero": false}, "axis": {"title": "Roll", "values": [80, 100, 120], "labelOverlap": false}}},
     "layer": [
      {"data": {"name": "ell"}, "transform": [{"filter": "datum.p == 'a5'"}],
       "mark": {"type": "line", "interpolate": "cardinal-closed", "tension": -0.657, "fill": "#a4e6a0", "stroke": "#3cba3c", "strokeWidth": 1, "clip": true},
       "encoding": {"detail": {"field": "e", "type": "nominal"}, "order": {"field": "k", "type": "quantitative"}}},
      {"data": {"name": "dots"}, "transform": [{"filter": "datum.p == 'a5'"}],
       "mark": {"type": "point", "filled": true, "size": 36, "color": "#2fb52f", "opacity": 1, "clip": true}}
    ]},
    {"width": 380, "height": 81,
     "title": {"text": "(b)", "orient": "bottom", "anchor": "middle", "font": "Liberation Serif", "fontSize": 21, "fontWeight": "bold", "color": "#111111", "offset": 6, "dx": 14},
     "encoding": {
       "x": {"field": "t", "type": "quantitative", "scale": {"domain": [-30, 210], "nice": false, "zero": false}, "axis": {"title": "t", "values": [0, 50, 100, 150, 200], "labelOverlap": false}},
       "y": {"field": "v", "type": "quantitative", "scale": {"domain": [71.7, 116.2], "nice": false, "zero": false}, "axis": {"title": "Roll", "values": [80, 100], "labelOverlap": false}}},
     "layer": [
      {"data": {"name": "ell"}, "transform": [{"filter": "datum.p == 'b5'"}],
       "mark": {"type": "line", "interpolate": "cardinal-closed", "tension": -0.657, "fill": "#a4e6a0", "stroke": "#3cba3c", "strokeWidth": 1, "clip": true},
       "encoding": {"detail": {"field": "e", "type": "nominal"}, "order": {"field": "k", "type": "quantitative"}}},
      {"data": {"name": "dots"}, "transform": [{"filter": "datum.p == 'b5'"}],
       "mark": {"type": "point", "filled": true, "size": 36, "color": "#2fb52f", "opacity": 1, "clip": true}}
    ]}
  ]
}
